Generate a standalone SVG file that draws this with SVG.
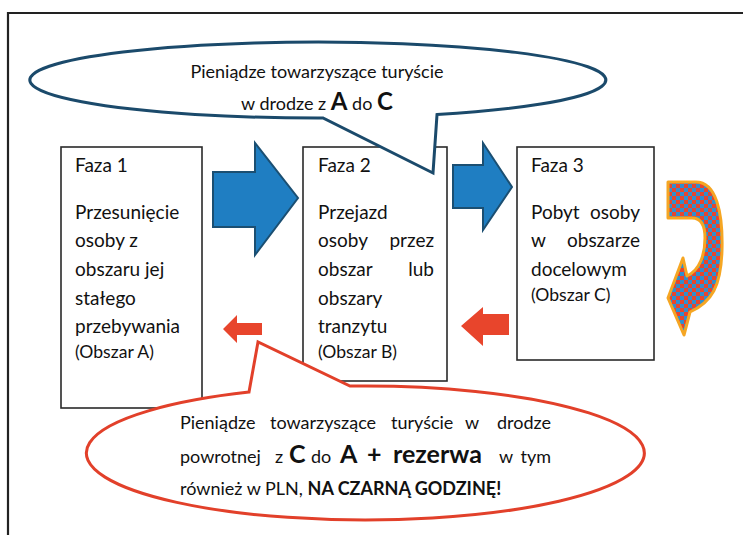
<svg xmlns="http://www.w3.org/2000/svg" width="743" height="535" viewBox="0 0 743 535">
<defs>
<style>
.t{font-family:Lato,"Open Sans","DejaVu Sans",sans-serif;fill:#111;}
.b{font-size:19px;}
.s{font-size:17.6px;}
.m{font-size:18px;}
.bd{font-weight:bold;}
.box{fill:#fff;stroke:#2a2a2a;stroke-width:1.6;}
.blue{fill:#1f7ec2;stroke:#1b4f72;stroke-width:2;stroke-linejoin:miter;}
.red{fill:#e8452c;}
</style>
<pattern id="chk" width="8" height="8" patternUnits="userSpaceOnUse">
<rect width="8" height="8" fill="#e8452c"/>
<rect x="0" y="0" width="4" height="4" fill="#2f8fd0"/>
<rect x="4" y="4" width="4" height="4" fill="#2f8fd0"/>
</pattern>
</defs>
<rect width="743" height="535" fill="#fff"/>
<!-- frame -->
<path d="M8,535 V13 H743" fill="none" stroke="#222" stroke-width="2.2"/>

<g id="faza1">
<rect class="box" x="61" y="147" width="141" height="261"/>
<text class="t b" x="75" y="172">Faza 1</text>
<text class="t b" x="75" y="219">Przesunięcie</text>
<text class="t b" x="75" y="247">osoby z</text>
<text class="t b" x="75" y="276">obszaru jej</text>
<text class="t b" x="75" y="305">stałego</text>
<text class="t b" x="75" y="333">przebywania</text>
<text class="t s" x="75" y="358">(Obszar A)</text>
</g>

<g id="faza2">
<rect class="box" x="303" y="147" width="144" height="234"/>
<text class="t b" x="318" y="172">Faza 2</text>
<text class="t b" x="318" y="219">Przejazd</text>
<text class="t b" x="318" y="247">osoby</text>
<text class="t b" x="434" y="247" text-anchor="end">przez</text>
<text class="t b" x="318" y="276">obszar</text>
<text class="t b" x="434" y="276" text-anchor="end">lub</text>
<text class="t b" x="318" y="305">obszary</text>
<text class="t b" x="318" y="333">tranzytu</text>
<text class="t s" x="318" y="358">(Obszar B)</text>
</g>

<g id="faza3">
<rect class="box" x="517" y="147" width="137" height="213"/>
<text class="t b" x="531" y="172">Faza 3</text>
<text class="t b" x="531" y="219">Pobyt</text>
<text class="t b" x="640" y="219" text-anchor="end">osoby</text>
<text class="t b" x="531" y="247">w</text>
<text class="t b" x="640" y="247" text-anchor="end">obszarze</text>
<text class="t b" x="531" y="276">docelowym</text>
<text class="t s" x="531" y="301">(Obszar C)</text>
</g>

<g id="connectors">
<polygon class="blue" points="213,172 255,172 255,143 298,198 255,255 255,227 213,227"/>
<polygon class="blue" points="453,165 483,165 483,143 512,187 483,230 483,208 453,208"/>
<polygon class="red" points="262,323 237,323 237,315 223,329 237,343 237,335 262,335"/>
<polygon class="red" points="509,314 483,314 483,307 461,326 483,346 483,335 509,335"/>
<path d="M668,182 L696,182 C716,182 723,212 722,250 C721,286 712,302 690,312 L684,335 L668,298 L683,258 L687,276 C700,270 705,254 705,238 C705,224 700,218 692,218 L668,218 Z" fill="url(#chk)" stroke="#f5a623" stroke-width="3" stroke-linejoin="round"/>
</g>

<g id="callout-top">
<path d="M323,118 A288,38 0 1 1 437,114.6 L433,173 Z" fill="#fff" stroke="#1b4a6b" stroke-width="3" stroke-linejoin="miter"/>
<text class="t m" x="317" y="78" text-anchor="middle">Pieniądze towarzyszące turyście</text>
<text class="t m" x="317" y="110" text-anchor="middle">w drodze z <tspan class="bd" font-size="24">A</tspan> do <tspan class="bd" font-size="24">C</tspan></text>
</g>

<g id="callout-bottom">
<path d="M249,392.1 A279,67 0 1 0 350,386.1 L258,342 Z" fill="#fff" stroke="#e2402a" stroke-width="3" stroke-linejoin="miter"/>
<text class="t m" x="180" y="429">Pieniądze</text>
<text class="t m" x="270" y="429">towarzyszące</text>
<text class="t m" x="391" y="429">turyście</text>
<text class="t m" x="465" y="429">w</text>
<text class="t m" x="551" y="429" text-anchor="end">drodze</text>
<text class="t m" x="180" y="463">powrotnej</text>
<text class="t m" x="275" y="463">z</text>
<text class="t bd" font-size="25" x="289" y="463">C</text>
<text class="t m" x="311" y="463">do</text>
<text class="t bd" font-size="25" x="340" y="463">A</text>
<text class="t bd" font-size="25" x="367" y="463">+</text>
<text class="t bd" font-size="25" x="393" y="463">rezerwa</text>
<text class="t m" x="499" y="463">w</text>
<text class="t m" x="551" y="463" text-anchor="end">tym</text>
<text class="t m" x="180" y="495">również w PLN, <tspan class="bd">NA CZARNĄ GODZINĘ!</tspan></text>
</g>
</svg>
